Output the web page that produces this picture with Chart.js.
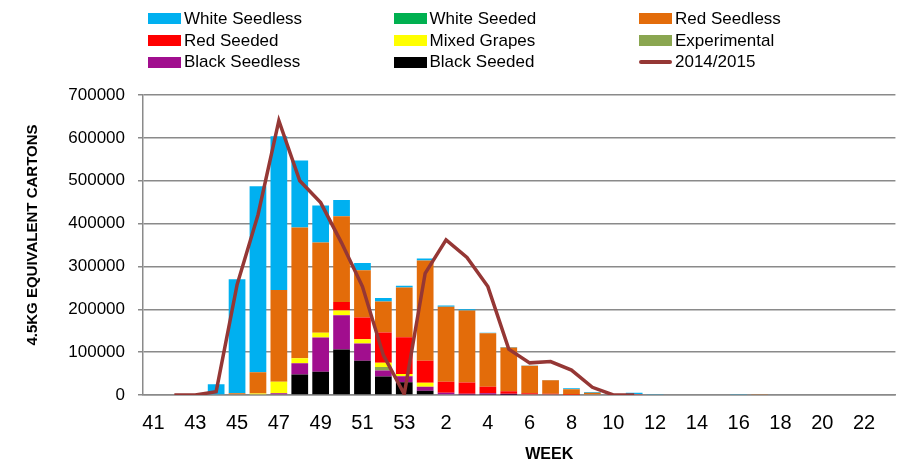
<!DOCTYPE html>
<html>
<head>
<meta charset="utf-8">
<script src="https://cdn.jsdelivr.net/npm/chart.js@4.4.1/dist/chart.umd.min.js"></script>
<style>
  body { margin: 0; background: #fff; }
  #wrap { position: relative; width: 901px; height: 467px; }
  #legend {
    position: absolute; left: 148px; top: 8px;
    display: grid; grid-template-columns: 245.5px 245.5px 160px; grid-auto-rows: 21.7px;
    font-family: "Liberation Sans", Arial, sans-serif; font-size: 17px; color: #000;
  }
  .item { display: flex; align-items: center; white-space: nowrap; }
  .box { width: 33px; height: 11px; margin-right: 3px; flex: none; }
  .line { width: 33px; height: 3.5px; border-radius: 2px; margin-right: 3px; flex: none; }
</style>
</head>
<body>
<div id="wrap">
  <canvas id="myChart" width="901" height="467"></canvas>
  <div id="legend"></div>
</div>
<script>
const weeks = ['41','42','43','44','45','46','47','48','49','50','51','52','53',
  '1','2','3','4','5','6','7','8','9','10','11','12','13','14','15','16','17','18','19','20','21','22','23'];

const whiteSeedless = [0,0,0,25000,266000,434000,359000,156000,86000,38000,17000,8500,4000,
  5000,3000,3000,1000,1000,1000,500,2000,1500,0,2500,1000,0,0,0,1000,0,0,0,0,0,0,0];
const whiteSeeded = [0,0,0,0,0,0,0,0,0,0,0,0,0,
  0,0,0,0,0,0,0,0,0,0,0,0,0,0,0,0,0,0,0,0,0,0,0];
const redSeedless = [0,0,0,0,4000,49500,214000,305000,211000,200000,110000,72000,116000,
  234000,175000,168000,125000,102000,64000,31500,13000,5500,0,0,0,1500,0,0,0,1000,0,0,0,0,0,0];
const redSeeded = [0,0,0,0,0,0,0,0,0,20000,51000,71000,86000,
  51000,26000,26000,15000,6000,2500,1500,600,0,0,2500,0,0,0,0,0,0,0,0,0,0,0,0];
const mixedGrapes = [0,0,0,0,0,3500,27000,12000,11000,11000,10000,9500,5000,
  9300,0,0,0,0,0,0,0,0,0,0,0,0,0,0,0,0,0,0,0,0,0,0];
const experimental = [0,0,0,0,0,0,0,0,0,0,0,8500,0,
  0,0,0,0,0,0,0,0,0,0,0,0,0,0,0,0,0,0,0,0,0,0,0];
const blackSeedless = [0,0,0,0,0,0,2000,26000,80000,80000,40000,14000,14000,
  9400,3000,2000,3000,2500,1500,1500,0,0,0,0,0,0,0,0,0,0,0,0,0,0,0,0];
const blackSeeded = [0,0,0,0,0,0,2000,48000,54000,106000,80000,43000,30000,
  10000,2000,1000,1000,500,0,0,0,0,0,0,0,0,0,0,0,0,0,0,0,0,0,0];
const season1415 = [null,0,0,7700,257000,420000,640000,500000,449000,355000,253000,93000,2000,
  284000,362000,321000,253000,107000,75000,78000,58000,18000,0,0,null,null,null,null,null,null,null,null,null,null,null,null];

const legendOrder = ['White Seedless','White Seeded','Red Seedless','Red Seeded','Mixed Grapes',
  'Experimental','Black Seedless','Black Seeded','2014/2015'];

const gridGrey = '#8a8a8a';
const font = '"Liberation Sans", Arial, sans-serif';

function bar(label, data, color) {
  return { type: 'bar', label, data, backgroundColor: color, borderWidth: 0,
    barPercentage: 0.8, categoryPercentage: 1, order: 1 };
}

// axis titles sit a little off centre in the original, so draw them by hand
const axisTitles = {
  id: 'axisTitles',
  afterDraw(chart) {
    const { ctx, chartArea } = chart;
    ctx.save();
    ctx.fillStyle = '#000';
    ctx.textAlign = 'center';
    ctx.textBaseline = 'middle';
    ctx.font = 'bold 16px ' + font;
    ctx.fillText('WEEK', (chartArea.left + chartArea.right) / 2 + 30, 455);
    ctx.font = 'bold 15px ' + font;
    ctx.translate(33, (chartArea.top + chartArea.bottom) / 2 - 10);
    ctx.rotate(-Math.PI / 2);
    ctx.fillText('4.5KG EQUIVALENT CARTONS', 0, 0);
    ctx.restore();
  }
};

const ctx = document.getElementById('myChart');
const chart = new Chart(ctx, {
  data: {
    labels: weeks,
    datasets: [
      { type: 'line', label: '2014/2015', data: season1415, borderColor: '#953735',
        backgroundColor: '#953735', borderWidth: 3.5, pointRadius: 0, tension: 0,
        stack: 'line', order: 0 },
      bar('Black Seeded', blackSeeded, '#000000'),
      bar('Black Seedless', blackSeedless, '#A10E8E'),
      bar('Experimental', experimental, '#8AA650'),
      bar('Mixed Grapes', mixedGrapes, '#FFFF00'),
      bar('Red Seeded', redSeeded, '#FF0000'),
      bar('Red Seedless', redSeedless, '#E36C0A'),
      bar('White Seeded', whiteSeeded, '#00B050'),
      bar('White Seedless', whiteSeedless, '#00B0F0'),
    ],
  },
  options: {
    responsive: false,
    animation: false,
    layout: { padding: { top: 95, right: 1, left: 0, bottom: 0 } },
    plugins: { legend: { display: false }, tooltip: { enabled: false } },
    scales: {
      x: {
        stacked: true,
        grid: { display: false, drawTicks: false },
        border: { display: true, color: gridGrey, width: 1.5 },
        ticks: {
          autoSkip: false, maxRotation: 0, padding: 16, color: '#000',
          font: { family: font, size: 20 },
          callback: (v, i) => (i % 2 === 0 ? weeks[i] : ''),
        },
        afterFit: s => { s.height = 72; },
      },
      y: {
        stacked: true,
        min: 0,
        max: 700000,
        grid: { color: gridGrey, lineWidth: 1.5, tickLength: 5 },
        border: { display: true, color: gridGrey, width: 1.5 },
        ticks: {
          stepSize: 100000, padding: 13, color: '#000', font: { family: font, size: 17 },
          callback: value => String(value),
        },
        afterFit: s => { s.width = 143; },
      },
    },
  },
  plugins: [axisTitles],
});

// legend in three columns, like the original
const legendEl = document.getElementById('legend');
legendOrder.forEach(name => {
  const ds = chart.data.datasets.find(d => d.label === name);
  const item = document.createElement('div');
  item.className = 'item';
  const swatch = document.createElement('span');
  swatch.className = ds.type === 'line' ? 'line' : 'box';
  swatch.style.background = ds.type === 'line' ? ds.borderColor : ds.backgroundColor;
  const txt = document.createElement('span');
  txt.textContent = name;
  item.appendChild(swatch);
  item.appendChild(txt);
  legendEl.appendChild(item);
});
</script>
</body>
</html>
